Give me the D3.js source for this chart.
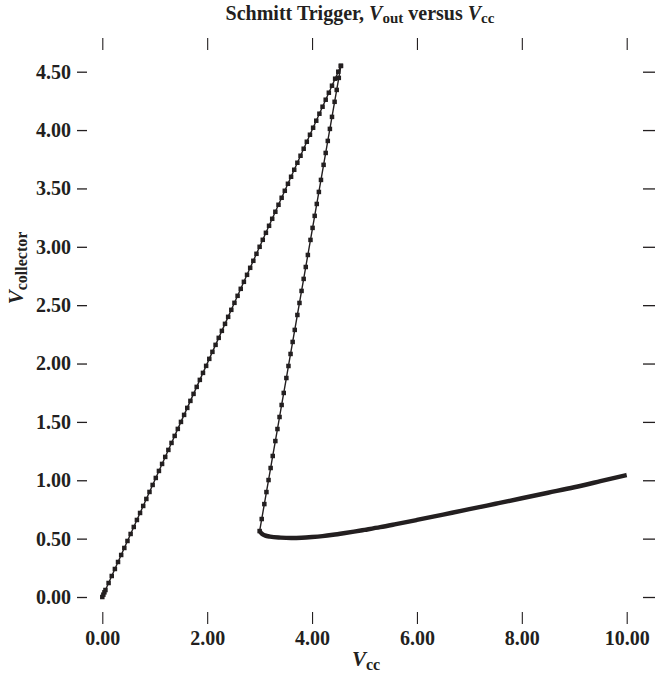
<!DOCTYPE html>
<html>
<head>
<meta charset="utf-8">
<script src="https://cdn.jsdelivr.net/npm/d3@7"></script>
<style>
  html, body { margin: 0; padding: 0; background: #fff; }
  svg { display: block; font-family: "Liberation Serif", "Times New Roman", serif; }
</style>
</head>
<body>
<svg id="chart" width="660" height="676"></svg>
<script>
// ---- Data ----
const xTicks = [0, 2, 4, 6, 8, 10];
const yTicks = [0, 0.5, 1, 1.5, 2, 2.5, 3, 3.5, 4, 4.5];

// rising branch (Vout follows Vcc)
const riseVcc = [0.00,0.02,0.04,0.06,0.12,0.18,0.24,0.30,0.36,0.42,0.48,0.54,0.60,0.66,0.72,0.78,0.84,0.90,0.96,1.02,1.08,1.14,1.20,1.26,1.32,1.38,1.44,1.50,1.56,1.62,1.68,1.74,1.80,1.86,1.92,1.98,2.04,2.10,2.16,2.22,2.28,2.34,2.40,2.46,2.52,2.58,2.64,2.70,2.76,2.82,2.88,2.94,3.00,3.06,3.12,3.18,3.24,3.30,3.36,3.42,3.48,3.54,3.60,3.66,3.72,3.78,3.84,3.90,3.96,4.02,4.08,4.14,4.20,4.26,4.32,4.38,4.44,4.50,4.55];
const riseVout = [0.00,0.02,0.04,0.06,0.12,0.18,0.24,0.30,0.36,0.42,0.48,0.54,0.60,0.66,0.72,0.78,0.84,0.90,0.96,1.02,1.08,1.14,1.20,1.26,1.32,1.38,1.44,1.50,1.56,1.62,1.68,1.74,1.80,1.86,1.92,1.98,2.04,2.10,2.16,2.22,2.28,2.34,2.40,2.46,2.52,2.58,2.64,2.70,2.76,2.82,2.88,2.94,3.00,3.06,3.12,3.18,3.24,3.30,3.36,3.42,3.48,3.54,3.60,3.66,3.72,3.78,3.84,3.90,3.96,4.02,4.08,4.14,4.20,4.26,4.32,4.38,4.44,4.50,4.55];

// falling branch (switching back)
const fallVcc = [4.55,4.51,4.47,4.43,4.38,4.34,4.30,4.26,4.22,4.17,4.13,4.09,4.05,4.01,3.97,3.92,3.88,3.84,3.80,3.76,3.72,3.67,3.63,3.59,3.55,3.51,3.46,3.42,3.38,3.34,3.30,3.25,3.21,3.17,3.13,3.09,3.04,3.00];
const fallVout = [4.55,4.447,4.344,4.242,4.113,4.010,3.907,3.804,3.702,3.573,3.470,3.367,3.265,3.162,3.059,2.930,2.827,2.725,2.622,2.519,2.416,2.288,2.185,2.082,1.979,1.876,1.748,1.645,1.542,1.439,1.336,1.208,1.105,1.002,0.899,0.796,0.668,0.565];

// saturated branch (dense sweep, drawn as a heavy curve)
const lowVcc  = [3.00,3.05,3.10,3.20,3.40,3.60,3.80,4.00,4.20,4.40,4.60,4.80,5.00,5.30,5.60,6.00,6.50,7.00,7.50,8.00,8.50,9.00,9.50,10.00];
const lowVout = [0.565,0.540,0.528,0.517,0.509,0.506,0.508,0.514,0.522,0.533,0.546,0.560,0.575,0.598,0.624,0.660,0.706,0.752,0.799,0.846,0.893,0.940,0.992,1.045];

// ---- Layout ----
const ink = "#231f20";
const svg = d3.select("#chart");
const x = d3.scaleLinear().domain([0, 10]).range([102.3, 626.7]);
const y = d3.scaleLinear().domain([0, 4.5]).range([597, 71.7]);

const fmt = d3.format(".2f");
const tickFont = "20px";

// bottom axis (ticks only, no domain line)
const xb = svg.append("g").attr("transform", "translate(0,612)")
  .call(d3.axisBottom(x).tickValues(xTicks).tickFormat(fmt).tickSize(12).tickPadding(7));
xb.select(".domain").remove();
xb.selectAll("line").attr("stroke", ink).attr("stroke-width", 1.1);
xb.selectAll("text").attr("fill", ink).style("font-size", tickFont).style("font-weight", "bold")
  .style("font-family", "'Liberation Serif', serif");

// top axis (ticks only)
const xt = svg.append("g").attr("transform", "translate(0,50)")
  .call(d3.axisTop(x).tickValues(xTicks).tickFormat("").tickSize(12));
xt.select(".domain").remove();
xt.selectAll("line").attr("stroke", ink).attr("stroke-width", 1.1);

// left axis
const yl = svg.append("g").attr("transform", "translate(87,0)")
  .call(d3.axisLeft(y).tickValues(yTicks).tickFormat(fmt).tickSize(10).tickPadding(6));
yl.select(".domain").remove();
yl.selectAll("line").attr("stroke", ink).attr("stroke-width", 1.3);
yl.selectAll("text").attr("fill", ink).style("font-size", tickFont).style("font-weight", "bold")
  .style("font-family", "'Liberation Serif', serif");

// right axis
const yr = svg.append("g").attr("transform", "translate(643,0)")
  .call(d3.axisRight(y).tickValues(yTicks).tickFormat("").tickSize(12));
yr.select(".domain").remove();
yr.selectAll("line").attr("stroke", ink).attr("stroke-width", 1.3);

// ---- Marks ----
const rise = riseVcc.map((v, i) => [v, riseVout[i]]);
const fall = fallVcc.map((v, i) => [v, fallVout[i]]);
const low  = lowVcc.map((v, i) => [v, lowVout[i]]);

const line = d3.line().x(d => x(d[0])).y(d => y(d[1]));
svg.append("path").attr("d", line(rise)).attr("fill", "none").attr("stroke", ink).attr("stroke-width", 1.4);
svg.append("path").attr("d", line(fall)).attr("fill", "none").attr("stroke", ink).attr("stroke-width", 1.4);
svg.append("path").attr("d", line.curve(d3.curveMonotoneX)(low)).attr("fill", "none")
  .attr("stroke", ink).attr("stroke-width", 4.4).attr("stroke-linecap", "butt");

const ms = 4.5;
svg.append("g").selectAll("rect").data(rise.concat(fall)).join("rect")
  .attr("x", d => x(d[0]) - ms / 2).attr("y", d => y(d[1]) - ms / 2)
  .attr("width", ms).attr("height", ms).attr("fill", ink);

// ---- Titles ----
const title = svg.append("text").attr("x", 360).attr("y", 20).attr("text-anchor", "middle")
  .attr("fill", ink).style("font-size", "20px").style("font-weight", "bold");
title.append("tspan").text("Schmitt Trigger, ");
title.append("tspan").style("font-style", "italic").text("V");
title.append("tspan").attr("dy", 3).style("font-size", "15px").text("out");
title.append("tspan").attr("dy", -3).text(" versus ");
title.append("tspan").style("font-style", "italic").text("V");
title.append("tspan").attr("dy", 3).style("font-size", "15px").text("cc");

const xl = svg.append("text").attr("x", 366).attr("y", 666).attr("text-anchor", "middle")
  .attr("fill", ink).style("font-size", "21px").style("font-weight", "bold");
xl.append("tspan").style("font-style", "italic").text("V");
xl.append("tspan").attr("dy", 4).style("font-size", "16px").text("cc");

const ylab = svg.append("text").attr("transform", "translate(23,268) rotate(-90)").attr("text-anchor", "middle")
  .attr("fill", ink).style("font-size", "21px").style("font-weight", "bold");
ylab.append("tspan").style("font-style", "italic").text("V");
ylab.append("tspan").attr("dy", 4).style("font-size", "16px").text("collector");
</script>
</body>
</html>
